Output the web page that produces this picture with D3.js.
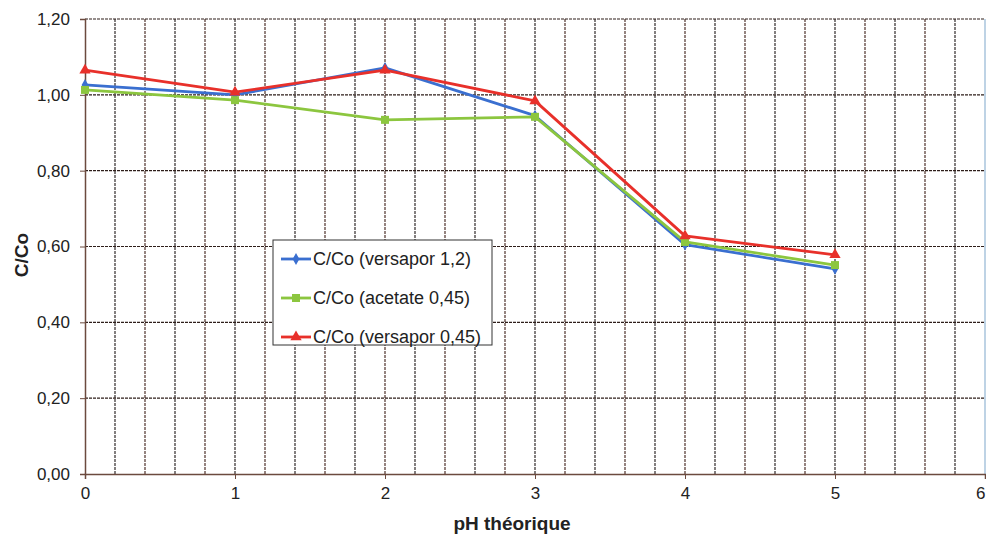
<!DOCTYPE html>
<html>
<head>
<meta charset="utf-8">
<script src="https://cdn.jsdelivr.net/npm/d3@7"></script>
<style>
  body { margin: 0; background: #fff; }
  svg { font-family: "Liberation Sans", Arial, sans-serif; }
</style>
</head>
<body>
<svg id="chart" width="986" height="537"></svg>
<script>
const phValues = [0, 1, 2, 3, 4, 5];
const versapor12 = [1.026, 1.000, 1.071, 0.945, 0.605, 0.541];
const acetate045 = [1.013, 0.986, 0.934, 0.942, 0.612, 0.551];
const versapor045 = [1.065, 1.007, 1.065, 0.984, 0.628, 0.578];
const yTicks = [0, 0.2, 0.4, 0.6, 0.8, 1.0, 1.2];
const xTicks = [0, 1, 2, 3, 4, 5, 6];

const series = [
  { name: "C/Co (versapor 1,2)", values: versapor12, color: "#3a6fd0", symbol: d3.symbolDiamond, size: 40 },
  { name: "C/Co (acetate 0,45)", values: acetate045, color: "#8cc63f", symbol: d3.symbolSquare, size: 64 },
  { name: "C/Co (versapor 0,45)", values: versapor045, color: "#e8302a", symbol: d3.symbolTriangle, size: 55 }
];

const svg = d3.select("#chart");
const margin = { left: 85, top: 19, right: 1, bottom: 63 };
const width = 986 - margin.left - margin.right;
const height = 537 - margin.top - margin.bottom;

const xScale = d3.scaleLinear().domain([0, 6]).range([0, width]);
const yScale = d3.scaleLinear().domain([0, 1.2]).range([height, 0]);

const inner = svg.append("g").attr("transform", `translate(${margin.left},${margin.top})`);

// grid
const xGrid = d3.range(1, 30).map(i => i * 0.2);
inner.selectAll(".vgrid")
  .data(xGrid)
  .join("line")
  .attr("class", "vgrid")
  .attr("x1", d => xScale(d)).attr("x2", d => xScale(d))
  .attr("y1", 0).attr("y2", height)
  .attr("stroke", (d, i) => i % 2 === 0 ? "#1e1616" : "#3e2018")
  .attr("stroke-width", 1.1)
  .attr("stroke-dasharray", "3,1");

inner.selectAll(".hgrid")
  .data(yTicks.slice(1))
  .join("line")
  .attr("class", "hgrid")
  .attr("x1", 0).attr("x2", width)
  .attr("y1", d => yScale(d)).attr("y2", d => yScale(d))
  .attr("stroke", "#2e1e1a")
  .attr("stroke-width", 1.1)
  .attr("stroke-dasharray", "3,1");

// right border light blue
inner.append("line")
  .attr("x1", width).attr("x2", width)
  .attr("y1", 0).attr("y2", height)
  .attr("stroke", "#a9c4dc").attr("stroke-width", 1.5);

// axes
const fmt = d3.format(".2f");
const yAxis = inner.append("g")
  .call(d3.axisLeft(yScale).tickValues(yTicks).tickSize(5).tickPadding(10)
    .tickFormat(d => fmt(d).replace(".", ",")));
const xAxis = inner.append("g")
  .attr("transform", `translate(0,${height})`)
  .call(d3.axisBottom(xScale).tickValues(xTicks).tickSize(5).tickPadding(8).tickFormat(d3.format("d")));

[yAxis, xAxis].forEach(a => {
  a.select(".domain").attr("stroke", "#6b4a3e").attr("stroke-width", 1.5);
  a.selectAll(".tick line").attr("stroke", "#6b4a3e");
  a.selectAll(".tick text").attr("fill", "#222").attr("font-size", 17)
    .attr("font-family", "Liberation Sans, Arial, sans-serif");
});
xAxis.select(".tick:last-of-type text").attr("text-anchor", "end").attr("dx", 0);

// lines
const line = d3.line().x((d, i) => xScale(phValues[i])).y(d => yScale(d));
series.forEach(s => {
  inner.append("path")
    .datum(s.values)
    .attr("fill", "none")
    .attr("stroke", s.color)
    .attr("stroke-width", 2.8)
    .attr("stroke-linejoin", "round")
    .attr("d", line);
  inner.selectAll(null)
    .data(s.values)
    .join("path")
    .attr("transform", (d, i) => `translate(${xScale(phValues[i])},${yScale(d)})`)
    .attr("d", d3.symbol().type(s.symbol).size(s.size))
    .attr("fill", s.color);
});

// axis titles
svg.append("text")
  .attr("transform", `translate(28,255) rotate(-90)`)
  .attr("text-anchor", "middle")
  .attr("font-size", 19).attr("font-weight", "bold").attr("fill", "#222")
  .text("C/Co");
svg.append("text")
  .attr("x", 512).attr("y", 530)
  .attr("text-anchor", "middle")
  .attr("font-size", 19).attr("font-weight", "bold").attr("fill", "#222")
  .text("pH théorique");

// legend
const legend = svg.append("g").attr("transform", "translate(273,240)");
legend.append("rect")
  .attr("width", 219).attr("height", 105)
  .attr("fill", "#fff").attr("stroke", "#333").attr("stroke-width", 1);
const items = legend.selectAll(".item")
  .data(series)
  .join("g")
  .attr("class", "item")
  .attr("transform", (d, i) => `translate(0,${19 + i * 39})`);
items.append("line")
  .attr("x1", 8).attr("x2", 38)
  .attr("stroke", d => d.color).attr("stroke-width", 2.8);
items.append("path")
  .attr("transform", "translate(23,0)")
  .attr("d", d => d3.symbol().type(d.symbol).size(d.size)())
  .attr("fill", d => d.color);
items.append("text")
  .attr("x", 40).attr("y", 6)
  .attr("font-size", 18).attr("fill", "#222")
  .text(d => d.name);
</script>
</body>
</html>
